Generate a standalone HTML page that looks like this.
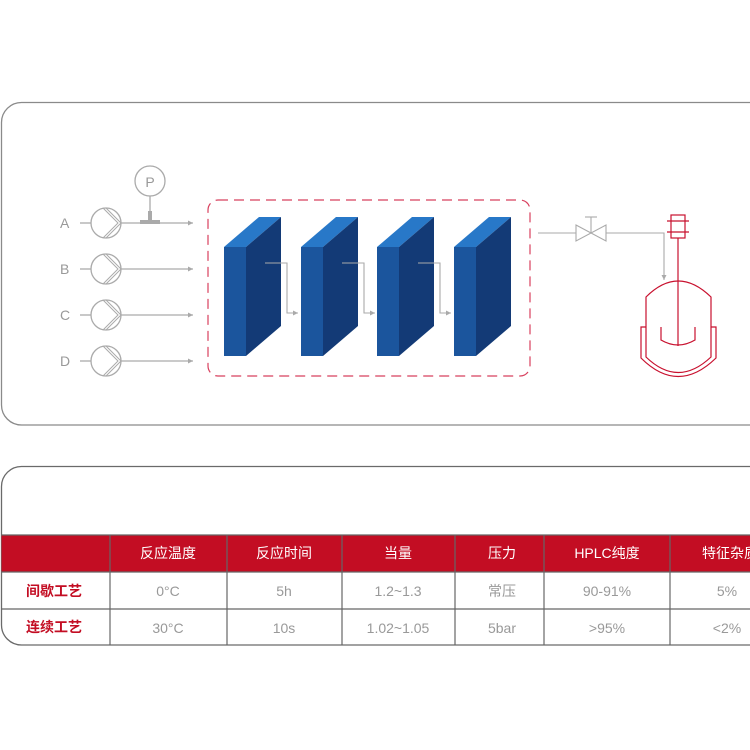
<!DOCTYPE html>
<html><head><meta charset="utf-8"><style>
html,body{margin:0;padding:0;background:#fff;width:750px;height:750px;overflow:hidden}
svg text{font-family:"Liberation Sans","Noto Sans CJK SC",sans-serif}
</style></head><body>
<svg width="750" height="750" viewBox="0 0 750 750" xmlns="http://www.w3.org/2000/svg">
<defs>
<marker id="ar" markerWidth="6" markerHeight="6" refX="5" refY="3" orient="auto" markerUnits="userSpaceOnUse"><path d="M0,0.5 L5,3 L0,5.5z" fill="#aaa"/></marker>
</defs>
<!-- boxes -->
<path d="M770,102.5 H22 A20,20 0 0 0 1.5,122.5 V405 A20,20 0 0 0 21.5,425 H770" fill="none" stroke="#8a8a8a" stroke-width="1.3"/>
<path d="M770,466.5 H22 A20,20 0 0 0 1.5,486.5 V625 A20,20 0 0 0 21.5,645 H770" fill="none" stroke="#6a6a6a" stroke-width="1.3"/>

<!-- pumps -->
<g fill="none" stroke="#aaa" stroke-width="1.3">
<g id="pp"><line x1="80" y1="223" x2="91" y2="223"/><circle cx="106" cy="223" r="15"/><path d="M106,208 L121,223 L106,238 M103,208 L118,223 L103,238" stroke-width="1"/></g>
<use href="#pp" y="46"/><use href="#pp" y="92"/><use href="#pp" y="138"/>
<line x1="121" y1="223" x2="193" y2="223" marker-end="url(#ar)"/>
<line x1="121" y1="269" x2="193" y2="269" marker-end="url(#ar)"/>
<line x1="121" y1="315" x2="193" y2="315" marker-end="url(#ar)"/>
<line x1="121" y1="361" x2="193" y2="361" marker-end="url(#ar)"/>
<circle cx="150" cy="181" r="15"/>
<line x1="150" y1="196" x2="150" y2="215"/>
</g>
<rect x="140" y="220" width="20" height="4" fill="#aaa"/>
<rect x="148" y="211" width="4" height="10" fill="#aaa"/>
<g fill="#999" font-size="14">
<text x="150" y="187" text-anchor="middle">P</text>
<text x="60" y="228">A</text><text x="60" y="274">B</text><text x="60" y="320">C</text><text x="60" y="366">D</text>
</g>

<!-- dashed box -->
<rect x="208" y="200" width="322" height="176" rx="10" fill="none" stroke="#d8405e" stroke-width="1.2" stroke-dasharray="10,6"/>

<!-- blocks -->
<g id="bk">
<polygon points="224,247 246,247 281,217 259,217" fill="#2878c8"/>
<polygon points="246,247 281,217 281,326 246,356" fill="#133a76"/>
<rect x="224" y="247" width="22" height="109" fill="#1b559d"/>
</g>
<use href="#bk" x="77"/><use href="#bk" x="153"/><use href="#bk" x="230"/>
<g fill="none" stroke="#aaa" stroke-width="1.1">
<path d="M265,263 H287 V313 H298" marker-end="url(#ar)"/>
<path d="M342,263 H364 V313 H375" marker-end="url(#ar)"/>
<path d="M418,263 H440 V313 H451" marker-end="url(#ar)"/>
<!-- valve -->
<line x1="538" y1="233" x2="576" y2="233"/>
<path d="M576,225 L606,241 L606,225 L576,241 Z"/>
<line x1="591" y1="217" x2="591" y2="233"/><line x1="585" y1="217" x2="597" y2="217"/>
<path d="M606,233 H664 V280" marker-end="url(#ar)"/>
</g>

<!-- reactor -->
<g fill="none" stroke="#c8102e" stroke-width="1.2">
<rect x="671" y="215" width="14" height="23"/>
<line x1="667" y1="221" x2="689" y2="221"/><line x1="667" y1="232" x2="689" y2="232"/>
<line x1="678" y1="238" x2="678" y2="346"/>
<path d="M646,297 Q678,265 711,297 V357 Q678,388 646,357 Z"/>
<path d="M646,327 H641 V358 Q678,395 716,358 V327 H711"/>
<path d="M661,327 V340 Q678,350 695,340 V327"/>
</g>

<!-- table -->
<rect x="1.5" y="535" width="760" height="37" fill="#c30d23"/>
<g stroke="#666" stroke-width="1.2">
<line x1="1" y1="535" x2="750" y2="535"/>
<line x1="1" y1="572" x2="750" y2="572"/>
<line x1="1" y1="609" x2="750" y2="609"/>
<line x1="110" y1="535" x2="110" y2="645"/>
<line x1="227" y1="535" x2="227" y2="645"/>
<line x1="342" y1="535" x2="342" y2="645"/>
<line x1="455" y1="535" x2="455" y2="645"/>
<line x1="544" y1="535" x2="544" y2="645"/>
<line x1="670" y1="535" x2="670" y2="645"/>
</g>
<g fill="#fff" font-size="14" text-anchor="middle">
<text x="168" y="558">反应温度</text><text x="284" y="558">反应时间</text><text x="398" y="558">当量</text>
<text x="502" y="558">压力</text><text x="607" y="558">HPLC纯度</text><text x="730" y="558">特征杂质</text>
</g>
<g fill="#c30d23" font-size="14" font-weight="bold" text-anchor="middle">
<text x="54" y="596">间歇工艺</text><text x="54" y="632">连续工艺</text>
</g>
<g fill="#999" font-size="14" text-anchor="middle">
<text x="168" y="596">0°C</text><text x="284" y="596">5h</text><text x="398" y="596">1.2~1.3</text><text x="502" y="596">常压</text><text x="607" y="596">90-91%</text><text x="727" y="596">5%</text>
<text x="168" y="633">30°C</text><text x="284" y="633">10s</text><text x="398" y="633">1.02~1.05</text><text x="502" y="633">5bar</text><text x="607" y="633">&gt;95%</text><text x="727" y="633">&lt;2%</text>
</g>
</svg>
</body></html>
